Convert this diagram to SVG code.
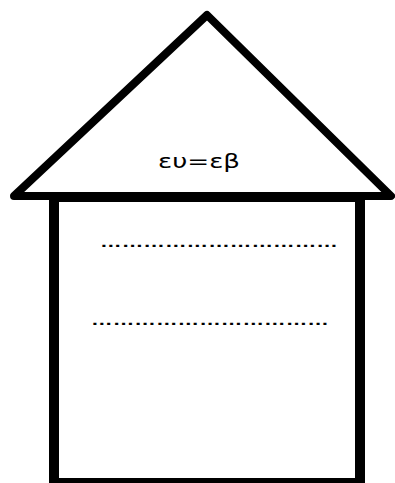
<svg xmlns="http://www.w3.org/2000/svg" width="395" height="483" viewBox="0 0 395 483">
<style>
.ln{fill:none;stroke:#000;stroke-linejoin:round;stroke-linecap:round}
.dots{font-family:"Liberation Sans",Arial,sans-serif;font-size:15px;font-weight:bold;fill:#000}
.lbl{font-family:"DejaVu Sans",sans-serif;font-size:20px;fill:#000}
</style>
<rect width="395" height="483" fill="#fff"/>
<g id="body">
<rect class="ln" x="54" y="197" width="306" height="286" stroke-width="10" style="stroke-linecap:butt;stroke-linejoin:miter"/>
<text class="dots" x="100" y="247" textLength="238" lengthAdjust="spacingAndGlyphs">&#x2026;&#x2026;&#x2026;&#x2026;&#x2026;&#x2026;&#x2026;&#x2026;&#x2026;&#x2026;&#x2026;</text>
<text class="dots" x="91" y="325" textLength="238" lengthAdjust="spacingAndGlyphs">&#x2026;&#x2026;&#x2026;&#x2026;&#x2026;&#x2026;&#x2026;&#x2026;&#x2026;&#x2026;&#x2026;</text>
</g>
<g id="roof">
<polygon class="ln" points="14,196 207,15 391,196" stroke-width="8"/>
<text class="lbl" x="199" y="168" text-anchor="middle" textLength="82" lengthAdjust="spacingAndGlyphs">ευ=εβ</text>
</g>
</svg>
